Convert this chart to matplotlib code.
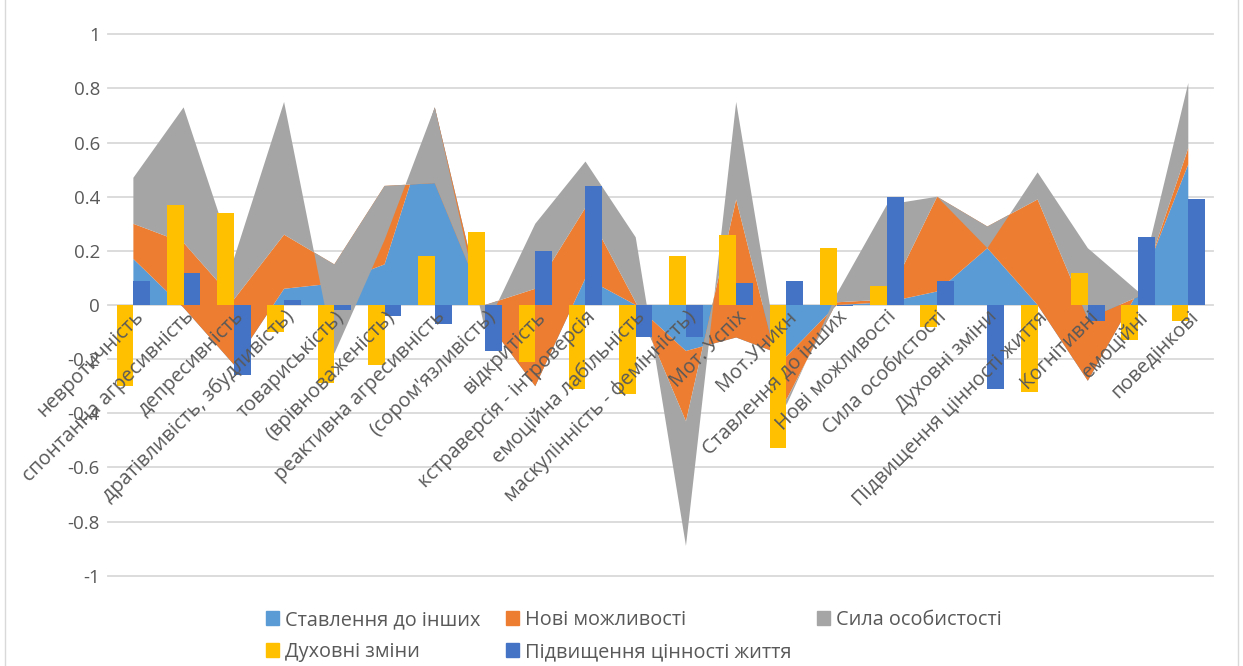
import numpy as np
import matplotlib.pyplot as plt
import matplotlib.transforms as mtransforms
from matplotlib.patches import Patch, Rectangle

# категорії (підписи осі X)
categories = [
    "невротичність", "спонтанна агресивність", "депресивність",
    "дратівливість, збудливість)", "товариськість)", "(врівноваженість)",
    "реактивна агресивність", "(сором'язливість)", "відкритість",
    "кстраверсія - інтроверсія", "емоційна лабільність",
    "маскулінність - фемінність)", "Мот. Успіх", "Мот.Уникн",
    "Ставлення до інших", "Нові можливості", "Сила особистості",
    "Духовні зміни", "Підвищення цінності життя", "Когнітивні",
    "емоційні", "поведінкові",
]

# площі (накопичувальні)
stavlennia = [0.17, -0.01, -0.22, 0.06, 0.08, 0.15, 0.73, -0.05, -0.30, 0.10, 0.00,
              -0.17, -0.12, -0.19, 0.00, 0.01, 0.05, 0.21, 0.00, -0.28, 0.05, 0.52]
novi = [0.13, 0.24, 0.24, 0.20, 0.07, 0.29, -0.28, 0.05, 0.36, 0.26, 0.01,
        -0.26, 0.51, -0.16, 0.01, 0.01, 0.35, 0.08, 0.39, 0.23, -0.02, 0.06]
syla = [0.17, 0.50, 0.15, 0.49, -0.33, -0.20, 0.28, -0.09, 0.24, 0.17, 0.24,
        -0.46, 0.36, -0.02, 0.03, 0.35, 0.00, -0.08, 0.10, 0.26, 0.02, 0.24]

# стовпчики
dukhovni = [-0.30, 0.37, 0.34, -0.10, -0.29, -0.22, 0.18, 0.27, -0.21, -0.31, -0.33,
            0.18, 0.26, -0.53, 0.21, 0.07, -0.08, 0.00, -0.32, 0.12, -0.13, -0.06]
tsinnist = [0.09, 0.12, -0.26, 0.02, -0.02, -0.04, -0.07, -0.17, 0.20, 0.44, -0.12,
            -0.12, 0.08, 0.09, -0.005, 0.40, 0.09, -0.31, 0.00, -0.06, 0.25, 0.39]

y_ticks = [1, 0.8, 0.6, 0.4, 0.2, 0, -0.2, -0.4, -0.6, -0.8, -1]
y_labels = ["1", "0.8", "0.6", "0.4", "0.2", "0", "-0.2", "-0.4", "-0.6", "-0.8", "-1"]

plt.rcParams['font.family'] = ['Open Sans', 'DejaVu Sans']
text_col = '#595959'

fig = plt.figure(figsize=(12.43, 6.66), dpi=100)
ax = fig.add_axes([0.0871, 0.1356, 0.8891, 0.8129])

x = np.arange(len(categories))
ax.stackplot(x, stavlennia, novi, syla,
             colors=['#5B9BD5', '#ED7D31', '#A5A5A5'], linewidth=0, zorder=2)

w = 0.333
ax.bar(x - w / 2, dukhovni, w, color='#FFC000', zorder=3)
ax.bar(x + w / 2, tsinnist, w, color='#4472C4', zorder=3)

for t in y_ticks:
    ax.axhline(t, color='#D9D9D9', lw=1.3, zorder=0, clip_on=False)

ax.set_xlim(-0.5, len(categories) - 0.5)
ax.set_ylim(-1, 1)
ax.set_yticks(y_ticks)
ax.set_yticklabels(y_labels)
ax.tick_params(axis='y', length=0, pad=6, labelsize=13.5, labelcolor=text_col)
ax.set_xticks([])
for s in ax.spines.values():
    s.set_visible(False)

# підписи категорій під кутом 45°
shift = mtransforms.ScaledTranslation(7 / 100, -9 / 100, fig.dpi_scale_trans)
for i, name in enumerate(categories):
    ax.text(i, 0, name, rotation=45, rotation_mode='anchor', ha='right', va='center',
            transform=ax.transData + shift, fontsize=14.3, color=text_col, zorder=5)

handles = [Patch(color='#5B9BD5'), Patch(color='#FFC000'), Patch(color='#ED7D31'),
           Patch(color='#4472C4'), Patch(color='#A5A5A5')]
labels = ["Ставлення до інших", "Духовні зміни", "Нові можливості",
          "Підвищення цінності життя", "Сила особистості"]
fig.legend(handles, labels, ncol=3, loc='center', bbox_to_anchor=(0.51, 0.045),
           frameon=False, fontsize=14.3, handlelength=0.65, handleheight=0.65,
           handletextpad=0.3, columnspacing=1.3, labelspacing=0.6, labelcolor=text_col)

fig.patches.append(Rectangle((0.004, -0.01), 0.992, 1.02, transform=fig.transFigure,
                             fill=False, edgecolor='#D9D9D9', lw=1))

fig.savefig('out.png', dpi=100)
